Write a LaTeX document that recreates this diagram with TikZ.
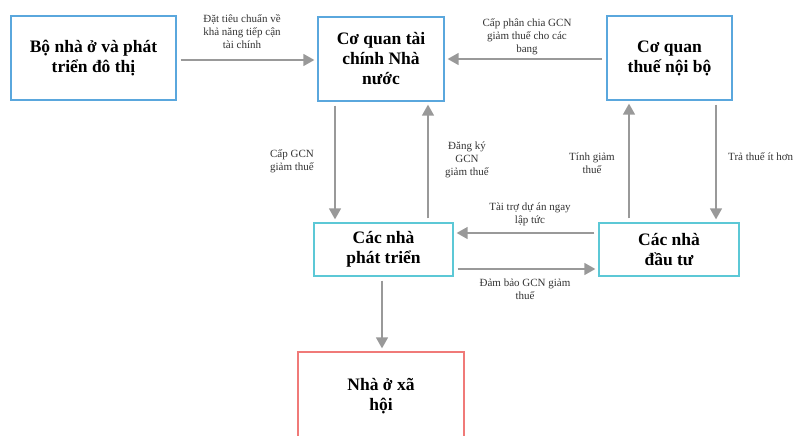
\documentclass[tikz,border=0pt]{standalone}
\usepackage{fontspec}
\setmainfont{Liberation Serif}
\usepackage{xcolor}
\usetikzlibrary{arrows.meta, calc, positioning}

\definecolor{boxblue}{HTML}{5AA7DD}
\definecolor{boxcyan}{HTML}{5CC8D6}
\definecolor{boxred}{HTML}{F07A78}
\definecolor{flowgray}{HTML}{999999}
\definecolor{labelgray}{HTML}{333333}

\tikzset{
    flow box/.style={
        draw,
        align=center,
        font=\fontsize{17.5}{20}\selectfont\bfseries,
        inner sep=2pt,
        line width=1.3pt
    },
    flow agency/.style={flow box, draw=boxblue},
    flow actor/.style={flow box, draw=boxcyan},
    flow target/.style={flow box, draw=boxred},
    flow arrow/.style={-{Triangle[length=11pt, width=12pt]}, draw=flowgray, line width=1.4pt,
        shorten >=3pt, shorten <=4pt},
    flow label/.style={align=center, text=labelgray, font=\fontsize{11}{13}\selectfont, inner sep=0pt}
}

\begin{document}
\begin{tikzpicture}[x=1pt, y=-1pt]
    \useasboundingbox (0,0) rectangle (795,436);

    \node[flow agency, minimum width=165pt, minimum height=84pt] (ministry) at (93.5,58) {Bộ nhà ở và phát\\triển đô thị};
    \node[flow agency, minimum width=126pt, minimum height=84pt] (finance) at (381,59) {Cơ quan tài\\chính Nhà\\nước};
    \node[flow agency, minimum width=125pt, minimum height=84pt] (taxoffice) at (669.5,58) {Cơ quan\\thuế nội bộ};

    \node[flow actor, minimum width=139pt, minimum height=53pt] (developers) at (383.5,249.5) {Các nhà\\phát triển};
    \node[flow actor, minimum width=140pt, minimum height=53pt] (investors) at (669,249.5) {Các nhà\\đầu tư};

    \node[flow target, minimum width=166pt, minimum height=88pt] (housing) at (381,396) {Nhà ở xã\\hội};

    % top row
    \draw[flow arrow] (ministry.east |- 0,60) -- (finance.west |- 0,60);
    \draw[flow arrow] (taxoffice.west |- 0,59) -- (finance.east |- 0,59);
    \node[flow label] (lblstandard) at (242,32) {Đặt tiêu chuẩn về\\khả năng tiếp cận\\tài chính};
    \node[flow label] (lblshare) at (527,37) {Cấp phân chia GCN\\giảm thuế cho các\\bang};

    % finance <-> developers
    \draw[flow arrow] (finance.south -| 335,0) -- (developers.north -| 335,0);
    \draw[flow arrow] (developers.north -| 428,0) -- (finance.south -| 428,0);
    \node[flow label] (lblissue) at (292,161) {Cấp GCN\\giảm thuế};
    \node[flow label] (lblregister) at (467,160) {Đăng ký\\GCN\\giảm thuế};

    % tax office <-> investors
    \draw[flow arrow] (investors.north -| 629,0) -- (taxoffice.south -| 629,0);
    \draw[flow arrow] (taxoffice.south -| 716,0) -- (investors.north -| 716,0);
    \node[flow label] (lblcalc) at (592,163) {Tính giảm\\thuế};
    \node[flow label, anchor=west] (lblpay) at (728,157) {Trả thuế ít hơn};

    % developers <-> investors
    \draw[flow arrow] (investors.west |- 0,233) -- (developers.east |- 0,233);
    \draw[flow arrow] (developers.east |- 0,269) -- (investors.west |- 0,269);
    \node[flow label] (lblfund) at (530,214) {Tài trợ dự án ngay\\lập tức};
    \node[flow label] (lblsecure) at (525,289) {Đảm bảo GCN giảm\\thuế};

    % developers -> housing
    \draw[flow arrow] (developers.south -| 382,0) -- (housing.north -| 382,0);
\end{tikzpicture}
\end{document}
